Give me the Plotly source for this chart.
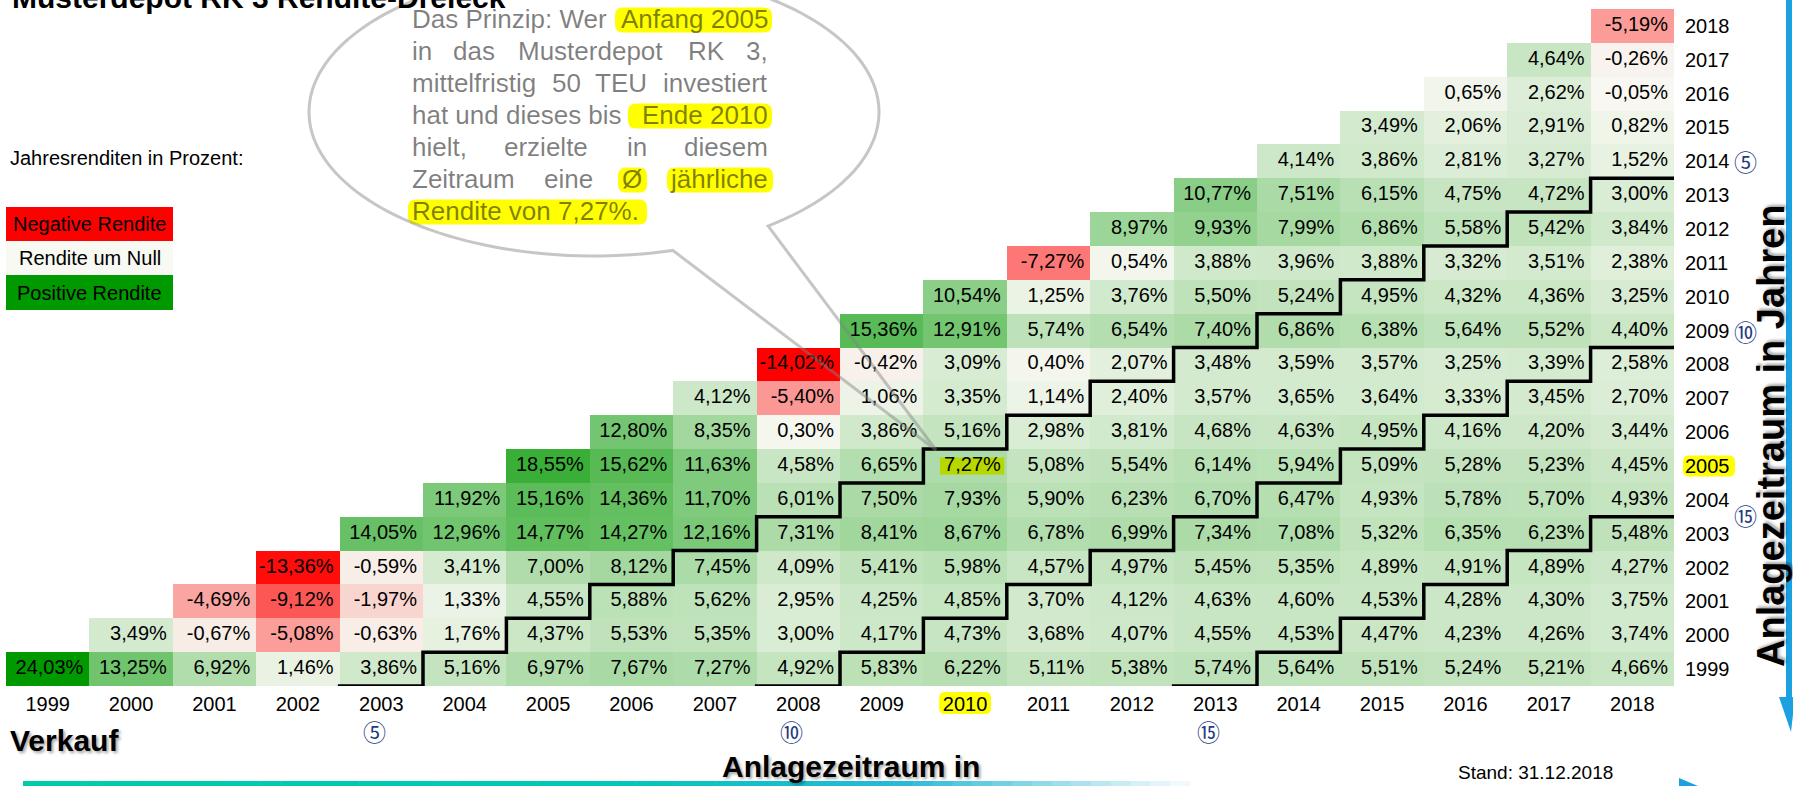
import numpy as np
import plotly.graph_objects as go

# ---------------- data ----------------
sell_years = [1999, 2000, 2001, 2002, 2003, 2004, 2005, 2006, 2007, 2008,
              2009, 2010, 2011, 2012, 2013, 2014, 2015, 2016, 2017, 2018]
buy_years = [1999, 2000, 2001, 2002, 2003, 2004, 2005, 2006, 2007, 2008,
             2009, 2010, 2011, 2012, 2013, 2014, 2015, 2016, 2017, 2018]
col_labels = ["1999", "2000", "2001", "2002", "2003", "2004", "2005", "2006", "2007", "2008",
              "2009", "2010", "2011", "2012", "2013", "2014", "2015", "2016", "2017", "2018"]
row_labels = ["1999", "2000", "2001", "2002", "2003", "2004", "2005", "2006", "2007", "2008",
              "2009", "2010", "2011", "2012", "2013", "2014", "2015", "2016", "2017", "2018"]

# average annual return (%) for each purchase year (row), sell years from purchase year to 2018
r1999 = [24.03, 13.25, 6.92, 1.46, 3.86, 5.16, 6.97, 7.67, 7.27, 4.92, 5.83, 6.22, 5.11, 5.38, 5.74, 5.64, 5.51, 5.24, 5.21, 4.66]
r2000 = [3.49, -0.67, -5.08, -0.63, 1.76, 4.37, 5.53, 5.35, 3.00, 4.17, 4.73, 3.68, 4.07, 4.55, 4.53, 4.47, 4.23, 4.26, 3.74]
r2001 = [-4.69, -9.12, -1.97, 1.33, 4.55, 5.88, 5.62, 2.95, 4.25, 4.85, 3.70, 4.12, 4.63, 4.60, 4.53, 4.28, 4.30, 3.75]
r2002 = [-13.36, -0.59, 3.41, 7.00, 8.12, 7.45, 4.09, 5.41, 5.98, 4.57, 4.97, 5.45, 5.35, 4.89, 4.91, 4.89, 4.27]
r2003 = [14.05, 12.96, 14.77, 14.27, 12.16, 7.31, 8.41, 8.67, 6.78, 6.99, 7.34, 7.08, 5.32, 6.35, 6.23, 5.48]
r2004 = [11.92, 15.16, 14.36, 11.70, 6.01, 7.50, 7.93, 5.90, 6.23, 6.70, 6.47, 4.93, 5.78, 5.70, 4.93]
r2005 = [18.55, 15.62, 11.63, 4.58, 6.65, 7.27, 5.08, 5.54, 6.14, 5.94, 5.09, 5.28, 5.23, 4.45]
r2006 = [12.80, 8.35, 0.30, 3.86, 5.16, 2.98, 3.81, 4.68, 4.63, 4.95, 4.16, 4.20, 3.44]
r2007 = [4.12, -5.40, 1.06, 3.35, 1.14, 2.40, 3.57, 3.65, 3.64, 3.33, 3.45, 2.70]
r2008 = [-14.02, -0.42, 3.09, 0.40, 2.07, 3.48, 3.59, 3.57, 3.25, 3.39, 2.58]
r2009 = [15.36, 12.91, 5.74, 6.54, 7.40, 6.86, 6.38, 5.64, 5.52, 4.40]
r2010 = [10.54, 1.25, 3.76, 5.50, 5.24, 4.95, 4.32, 4.36, 3.25]
r2011 = [-7.27, 0.54, 3.88, 3.96, 3.88, 3.32, 3.51, 2.38]
r2012 = [8.97, 9.93, 7.99, 6.86, 5.58, 5.42, 3.84]
r2013 = [10.77, 7.51, 6.15, 4.75, 4.72, 3.00]
r2014 = [4.14, 3.86, 2.81, 3.27, 1.52]
r2015 = [3.49, 2.06, 2.91, 0.82]
r2016 = [0.65, 2.62, -0.05]
r2017 = [4.64, -0.26]
r2018 = [-5.19]

holding_marks = [5, 10, 15]
holding_symbols = ["⑤", "⑩", "⑮"]
example_buy = 2005
example_sell = 2010

rows = [r1999, r2000, r2001, r2002, r2003, r2004, r2005, r2006, r2007, r2008,
        r2009, r2010, r2011, r2012, r2013, r2014, r2015, r2016, r2017, r2018]

# ---------------- geometry ----------------
W, H = 1793, 786
ML, MR, MT, MB = 6, 119, 9, 100
PW, PH = W - ML - MR, H - MT - MB
X0, X1 = sell_years[0] - 0.5, sell_years[-1] + 0.5
Y0, Y1 = buy_years[0] - 0.5, buy_years[-1] + 0.5
FONT = "Liberation Sans"


def px_x(px):      # pixel -> paper x
    return (px - ML) / PW


def px_y(py):      # pixel (from top) -> paper y
    return (H - MB - py) / PH


def px_to_xd(px):  # pixel -> data x
    return X0 + (px - ML) / PW * (X1 - X0)


def px_to_yd(py):  # pixel -> data y
    return Y0 + (H - MB - py) / PH * (Y1 - Y0)


def xd_to_px(v):
    return ML + (v - X0) / (X1 - X0) * PW


def yd_to_px(v):
    return H - MB - (v - Y0) / (Y1 - Y0) * PH


def fmt(v):
    return f"{v:.2f}".replace(".", ",") + "%"


# matrix
z = []
for i, b in enumerate(buy_years):
    line = []
    for j, s in enumerate(sell_years):
        line.append(rows[i][j - i] if j >= i else None)
    z.append(line)

all_vals = [v for r in rows for v in r]
zmin, zmax = min(all_vals), max(all_vals)
mid = (0 - zmin) / (zmax - zmin)
colorscale = [[0, "rgb(255,0,0)"], [mid, "rgb(248,248,242)"], [1, "rgb(0,153,0)"]]

fig = go.Figure()
fig.add_trace(go.Heatmap(x=sell_years, y=buy_years, z=z, colorscale=colorscale,
                         zmin=zmin, zmax=zmax, showscale=False, hoverinfo="skip",
                         xgap=0, ygap=0))

# highlight of the example cell
hx0 = example_sell - 0.30
hx1 = example_sell + 0.47
hy0 = example_buy - 0.25
hy1 = example_buy + 0.25
fig.add_trace(go.Scatter(x=[hx0, hx1, hx1, hx0, hx0], y=[hy0, hy0, hy1, hy1, hy0],
                         mode="lines", fill="toself", fillcolor="rgb(182,216,0)",
                         line=dict(width=0, color="rgb(182,216,0)"), hoverinfo="skip",
                         showlegend=False))

# cell texts (right aligned)
tx, ty, tt = [], [], []
pad = 6 / PW * (X1 - X0)
for i, b in enumerate(buy_years):
    for k, v in enumerate(rows[i]):
        tx.append(b + k + 0.5 - pad)
        ty.append(b)
        tt.append(fmt(v))
fig.add_trace(go.Scatter(x=tx, y=ty, text=tt, mode="text", textposition="middle left",
                         textfont=dict(family=FONT, size=20, color="black"),
                         hoverinfo="skip", showlegend=False, cliponaxis=False))

# staircase lines for holding periods
y_ext = px_to_yd(717)
x_ext = px_to_xd(1727)
for n in holding_marks:
    xs, ys = [], []
    first = buy_years[0] - 1
    for b in range(first, sell_years[-1] - n + 1):
        xv = b + n - 0.5
        xs += [xv, xv, xv + 1]
        ys += [(y_ext if b == first else b - 0.5), b + 0.5, b + 0.5]
    xs[-1] = x_ext
    fig.add_trace(go.Scatter(x=xs, y=ys, mode="lines", line=dict(color="black", width=3.5),
                             hoverinfo="skip", showlegend=False, cliponaxis=False))

shapes = []
annotations = []


def ann(text, x, y, size=20, color="black", xa="left", ya="middle", family=FONT,
        angle=0, shadow=None, xref="paper", yref="paper"):
    f = dict(family=family, size=size, color=color)
    if shadow:
        f["shadow"] = shadow
    annotations.append(dict(text=text, x=x, y=y, xref=xref, yref=yref, showarrow=False,
                            xanchor=xa, yanchor=ya, font=f, textangle=angle,
                            borderpad=0, borderwidth=0))


def rrect(x0, y0, x1, y1, r, fill, layer="below"):
    pts = (f"M {px_x(x0 + r)},{px_y(y0)} L {px_x(x1 - r)},{px_y(y0)} "
           f"Q {px_x(x1)},{px_y(y0)} {px_x(x1)},{px_y(y0 + r)} "
           f"L {px_x(x1)},{px_y(y1 - r)} Q {px_x(x1)},{px_y(y1)} {px_x(x1 - r)},{px_y(y1)} "
           f"L {px_x(x0 + r)},{px_y(y1)} Q {px_x(x0)},{px_y(y1)} {px_x(x0)},{px_y(y1 - r)} "
           f"L {px_x(x0)},{px_y(y0 + r)} Q {px_x(x0)},{px_y(y0)} {px_x(x0 + r)},{px_y(y0)} Z")
    shapes.append(dict(type="path", path=pts, xref="paper", yref="paper",
                       fillcolor=fill, line=dict(width=0), layer=layer))


# highlighted axis labels
cx = xd_to_px(example_sell)
rrect(cx - 26, 692, cx + 26, 714, 6, "#FFFF00")
cy = yd_to_px(example_buy)
rrect(1683, cy - 10.5, 1735, cy + 10.5, 6, "#FFFF00")

# circled holding-period markers
for n, sym in zip(holding_marks, holding_symbols):
    ann(sym, buy_years[0] + n - 1 - 0.08, px_y(731), size=23, color="#1F3C82",
        xa="center", family="Noto Sans CJK JP", xref="x")
for n, sym, yy in zip(holding_marks, holding_symbols,
                      [sell_years[-1] - 4, sell_years[-1] - 9, sell_years[-1] - 14.45]):
    ann(sym, px_x(1745), yy, size=23, color="#1F3C82", xa="center",
        family="Noto Sans CJK JP", yref="y")

# title (cut at the top)
ann("<b>Musterdepot RK 3 Rendite-Dreieck</b>", px_x(12), px_y(14), size=30, ya="bottom")

# legend
ann("Jahresrenditen in Prozent:", px_x(10), px_y(158), size=20)
legend_items = [("Negative Rendite", "rgb(255,0,0)", 207, 241),
                ("Rendite um Null", "rgb(248,249,243)", 241, 275),
                ("Positive Rendite", "rgb(0,153,0)", 275, 310)]
for txt, col, y0, y1 in legend_items:
    shapes.append(dict(type="rect", xref="paper", yref="paper", x0=px_x(6), x1=px_x(173),
                       y0=px_y(y1), y1=px_y(y0), fillcolor=col, line=dict(width=0)))
    ann(txt, px_x(89.5), px_y((y0 + y1) / 2), size=20, xa="center")

# speech bubble
ecx, ecy, ea, eb = 594, 112, 285, 144
A = (672, 249)
B = (765, 224)
tip = (936, 450)
thB = np.arctan2((B[1] - ecy) / eb, (B[0] - ecx) / ea)
thA = np.arctan2((A[1] - ecy) / eb, (A[0] - ecx) / ea) - 2 * np.pi
ths = np.linspace(thB, thA, 160)
pts = [(ecx + ea * np.cos(t), ecy + eb * np.sin(t)) for t in ths]
pts += [tip]
path = "M " + " L ".join(f"{px_x(p[0]):.5f},{px_y(p[1]):.5f}" for p in pts) + " Z"
shapes.append(dict(type="path", path=path, xref="paper", yref="paper",
                   line=dict(color="rgba(128,128,128,0.45)", width=3),
                   fillcolor="rgba(0,0,0,0)", layer="above"))

# bubble text
dy = 4
for x0, x1, yc in [(615, 772, 16), (628, 772, 112), (618, 647, 176), (667, 773, 176), (408, 647, 208)]:
    rrect(x0, yc + dy - 12.5, x1, yc + dy + 12.5, 8, "#FFFF00", layer="below")

gray = "rgba(0,0,0,0.5)"
bubble_words = [
    ("Das Prinzip: Wer", 412, 15, "left"), ("Anfang 2005", 768, 15, "right"),
    ("in", 412, 47, "left"), ("das", 453, 47, "left"), ("Musterdepot", 518, 47, "left"),
    ("RK", 688, 47, "left"), ("3,", 768, 47, "right"),
    ("mittelfristig", 412, 79, "left"), ("50", 552, 79, "left"), ("TEU", 595, 79, "left"),
    ("investiert", 768, 79, "right"),
    ("hat und dieses bis", 412, 111, "left"), ("Ende 2010", 768, 111, "right"),
    ("hielt,", 412, 143, "left"), ("erzielte", 504, 143, "left"), ("in", 627, 143, "left"),
    ("diesem", 768, 143, "right"),
    ("Zeitraum", 412, 175, "left"), ("eine", 544, 175, "left"), ("Ø", 622, 175, "left"),
    ("jährliche", 768, 175, "right"),
    ("Rendite von 7,27%.", 412, 207, "left"),
]
for w, x, y, a in bubble_words:
    ann(w, px_x(x), px_y(y + dy), size=26, color=gray, xa=a)

# axis titles and notes
shadow = "2px 2px 3px rgba(0,0,0,0.35)"
ann("<b>Verkauf</b>", px_x(10), px_y(741), size=30, shadow=shadow)
ann("<b>Anlagezeitraum in</b>", px_x(851), px_y(766), size=30, xa="center", shadow=shadow)
ann("<b>Anlagezeitraum in Jahren</b>", px_x(1771), px_y(436), size=38, xa="center",
    angle=-90, shadow=shadow)
ann("Stand: 31.12.2018", px_x(1458), px_y(773), size=19)

# decorative blue frame elements
blue = "rgb(27,161,226)"
shapes.append(dict(type="rect", xref="paper", yref="paper", x0=px_x(1786), x1=px_x(1792),
                   y0=px_y(700), y1=px_y(0), fillcolor=blue, line=dict(width=0)))
tri = [(1779, 697), (1795, 697), (1791, 732)]
shapes.append(dict(type="path", xref="paper", yref="paper", fillcolor=blue, line=dict(width=0),
                   path="M " + " L ".join(f"{px_x(a)},{px_y(b)}" for a, b in tri) + " Z"))
tri2 = [(1679, 778), (1679, 792), (1698, 786)]
shapes.append(dict(type="path", xref="paper", yref="paper", fillcolor=blue, line=dict(width=0),
                   path="M " + " L ".join(f"{px_x(a)},{px_y(b)}" for a, b in tri2) + " Z"))
stops_x = [23, 600, 900, 1190]
stops_c = [(0, 204, 170), (0, 200, 185), (40, 185, 215), (250, 252, 254)]
segx = np.linspace(23, 1190, 60)
for k in range(len(segx) - 1):
    xm = (segx[k] + segx[k + 1]) / 2
    c = [int(np.interp(xm, stops_x, [s[i] for s in stops_c])) for i in range(3)]
    shapes.append(dict(type="rect", xref="paper", yref="paper", x0=px_x(segx[k]),
                       x1=px_x(segx[k + 1] + 0.5), y0=px_y(786), y1=px_y(781),
                       fillcolor=f"rgb({c[0]},{c[1]},{c[2]})", line=dict(width=0)))

fig.update_layout(
    width=W, height=H,
    margin=dict(l=ML, r=MR, t=MT, b=MB, pad=0),
    paper_bgcolor="white", plot_bgcolor="white",
    showlegend=False, hovermode=False,
    shapes=shapes, annotations=annotations,
    xaxis=dict(range=[X0, X1], tickvals=sell_years, ticktext=col_labels, showgrid=False,
               zeroline=False, showline=False, ticks="", ticklabelstandoff=4,
               tickfont=dict(family=FONT, size=20, color="black"), fixedrange=True),
    yaxis=dict(range=[Y0, Y1], tickvals=buy_years, ticktext=row_labels, side="right",
               showgrid=False, zeroline=False, showline=False, ticks="", ticklabelstandoff=10,
               tickfont=dict(family=FONT, size=20, color="black"), fixedrange=True),
)

fig.write_html("out.html", config={"displayModeBar": False, "staticPlot": True},
               post_script="document.body.style.margin='0px';document.body.style.overflow='hidden';")
